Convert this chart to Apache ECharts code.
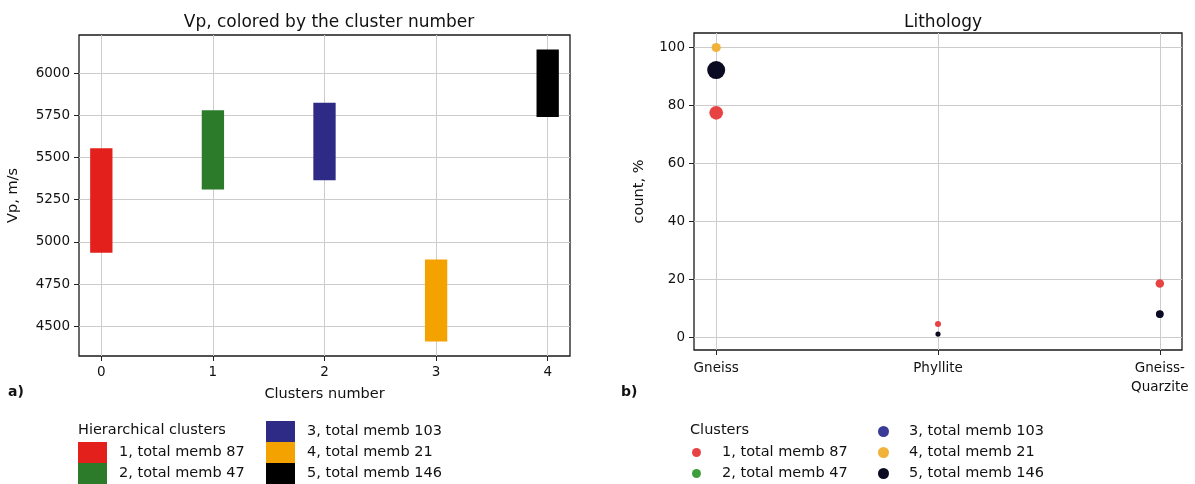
<!DOCTYPE html>
<html>
<head>
<meta charset="utf-8">
<script src="https://cdn.jsdelivr.net/npm/echarts@6/dist/echarts.min.js"></script>
<style>
html,body{margin:0;padding:0;background:#fff;}
#c{width:1195px;height:484px;}
</style>
</head>
<body>
<div id="c"></div>
<script>
// ---- data ----
const clusterIdx = [0, 1, 2, 3, 4];
const clusterNames = ['1, total memb 87', '2, total memb 47', '3, total memb 103', '4, total memb 21', '5, total memb 146'];
const members = [87, 47, 103, 21, 146];
const vpLow  = [4935, 5310, 5365, 4410, 5740];
const vpHigh = [5555, 5780, 5825, 4895, 6140];
const vpTicks = [4500, 4750, 5000, 5250, 5500, 5750, 6000];
const lithologies = ['Gneiss', 'Phyllite', 'Gneiss-\nQuarzite'];
const pctTicks = [0, 20, 40, 60, 80, 100];
const pctC1 = [77.5, 4.7, 18.6];
const pctC2 = [92, null, 8];
const pctC3 = [92, null, 8];
const pctC4 = [100, null, null];
const pctC5 = [92.2, 1.2, 8.1];
const pctByCluster = [pctC1, pctC2, pctC3, pctC4, pctC5];

const barColors = ['#e3201b', '#2b7b2b', '#2e2b86', '#f3a200', '#000000'];
const dotColors = ['#e84343', '#3c9f3c', '#3a3a98', '#f1b23a', '#0a0a22'];

const FONT = 'DejaVu Sans';
const gridColor = '#cccccc';

const chart = echarts.init(document.getElementById('c'), null, {renderer: 'canvas'});

const barSeries = clusterIdx.map((ci, i) => ({
  type: 'custom',
  name: clusterNames[i],
  xAxisIndex: 0, yAxisIndex: 0,
  itemStyle: {color: barColors[i]},
  encode: {x: 0, y: [1, 2]},
  data: [[ci, vpLow[i], vpHigh[i]]],
  renderItem: function (params, api) {
    const x = api.value(0), lo = api.value(1), hi = api.value(2);
    const p1 = api.coord([x - 0.1, hi]);
    const p2 = api.coord([x + 0.1, lo]);
    return {type: 'rect', shape: {x: p1[0], y: p1[1], width: p2[0] - p1[0], height: p2[1] - p1[1]},
            style: {fill: barColors[i]}};
  }
}));

const dotSeries = pctByCluster.map((arr, i) => ({
  type: 'scatter',
  name: clusterNames[i] + ' ',
  xAxisIndex: 1, yAxisIndex: 1,
  itemStyle: {color: dotColors[i], opacity: 1},
  symbolSize: function (v) { return 3.5 + 1.25 * Math.sqrt(members[i] * v[1] / 100); },
  data: arr.map((p, j) => p == null ? null : [j, p]).filter(d => d),
  z: 2 + i
}));

const axisLabelStyle = {color: '#111', fontFamily: FONT, fontSize: 13.5};
const plain = v => String(v);

const legendText = pad => ({fontFamily: FONT, fontSize: 14.5, color: '#111', lineHeight: 21, padding: [0, 0, 0, pad]});

const option = {
  animation: false,
  backgroundColor: '#fff',
  textStyle: {fontFamily: FONT},
  title: [
    {text: 'Vp, colored by the cluster number', left: 324, top: 9, textAlign: 'center',
     textStyle: {fontFamily: FONT, fontSize: 17, fontWeight: 'normal', color: '#111'}},
    {text: 'Lithology', left: 938, top: 9, textAlign: 'center',
     textStyle: {fontFamily: FONT, fontSize: 17, fontWeight: 'normal', color: '#111'}}
  ],
  grid: [
    {left: 79, top: 35, width: 491, height: 321, show: true, borderColor: '#1a1a1a', borderWidth: 1.3, containLabel: false},
    {left: 694, top: 33, width: 488, height: 317, show: true, borderColor: '#1a1a1a', borderWidth: 1.3, containLabel: false}
  ],
  xAxis: [
    {type: 'value', gridIndex: 0, min: -0.2, max: 4.2,
     name: 'Clusters number', nameLocation: 'middle', nameGap: 31,
     nameTextStyle: {fontFamily: FONT, fontSize: 14.5, color: '#111'},
     axisLine: {show: false, onZero: false},
     axisTick: {show: true, length: 5, customValues: clusterIdx, lineStyle: {color: '#222'}},
     axisLabel: Object.assign({customValues: clusterIdx, margin: 9, formatter: plain}, axisLabelStyle),
     splitLine: {show: true, lineStyle: {color: gridColor, width: 1}}},
    {type: 'value', gridIndex: 1, min: -0.1, max: 2.1,
     axisLine: {show: false, onZero: false},
     axisTick: {show: true, length: 5, customValues: [0, 1, 2], lineStyle: {color: '#222'}},
     axisLabel: Object.assign({customValues: [0, 1, 2], margin: 9, lineHeight: 19,
       formatter: v => lithologies[Math.round(v)]}, axisLabelStyle),
     splitLine: {show: true, lineStyle: {color: gridColor, width: 1}}}
  ],
  yAxis: [
    {type: 'value', gridIndex: 0, min: 4323.5, max: 6226.5,
     name: 'Vp, m/s', nameLocation: 'middle', nameGap: 58, nameRotate: 90,
     nameTextStyle: {fontFamily: FONT, fontSize: 14.5, color: '#111'},
     axisLine: {show: false, onZero: false},
     axisTick: {show: true, length: 5, customValues: vpTicks, lineStyle: {color: '#222'}},
     axisLabel: Object.assign({customValues: vpTicks, margin: 9, formatter: plain}, axisLabelStyle),
     splitLine: {show: true, lineStyle: {color: gridColor, width: 1}}},
    {type: 'value', gridIndex: 1, min: -4.3, max: 105,
     name: 'count, %', nameLocation: 'middle', nameGap: 47, nameRotate: 90,
     nameTextStyle: {fontFamily: FONT, fontSize: 14.5, color: '#111'},
     axisLine: {show: false, onZero: false},
     axisTick: {show: true, length: 5, customValues: pctTicks, lineStyle: {color: '#222'}},
     axisLabel: Object.assign({customValues: pctTicks, margin: 9, formatter: plain}, axisLabelStyle),
     splitLine: {show: true, lineStyle: {color: gridColor, width: 1}}}
  ],
  legend: [
    {left: 78, top: 442, orient: 'vertical', padding: 0, itemWidth: 29, itemHeight: 21, itemGap: 0, icon: 'rect',
     selectedMode: false, data: clusterNames.slice(0, 2), textStyle: legendText(7)},
    {left: 266, top: 421, orient: 'vertical', padding: 0, itemWidth: 29, itemHeight: 21, itemGap: 0, icon: 'rect',
     selectedMode: false, data: clusterNames.slice(2), textStyle: legendText(7)},
    {left: 692, top: 442, orient: 'vertical', padding: 0, itemWidth: 9, itemHeight: 9, itemGap: 0, icon: 'circle',
     selectedMode: false, data: clusterNames.slice(0, 2).map(n => n + ' '), textStyle: legendText(16)},
    {left: 878, top: 421, orient: 'vertical', padding: 0, itemWidth: 11, itemHeight: 11, itemGap: 0, icon: 'circle',
     selectedMode: false, data: clusterNames.slice(2).map(n => n + ' '), textStyle: legendText(15)}
  ],
  graphic: [
    {type: 'text', left: 78, top: 423, style: {text: 'Hierarchical clusters', font: '14.5px "DejaVu Sans"', fill: '#111'}},
    {type: 'text', left: 690, top: 423, style: {text: 'Clusters', font: '14.5px "DejaVu Sans"', fill: '#111'}},
    {type: 'text', left: 8, top: 385, style: {text: 'a)', font: 'bold 14px "DejaVu Sans"', fill: '#111'}},
    {type: 'text', left: 621, top: 385, style: {text: 'b)', font: 'bold 14px "DejaVu Sans"', fill: '#111'}}
  ],
  series: barSeries.concat(dotSeries)
};
chart.setOption(option);
</script>
</body>
</html>
